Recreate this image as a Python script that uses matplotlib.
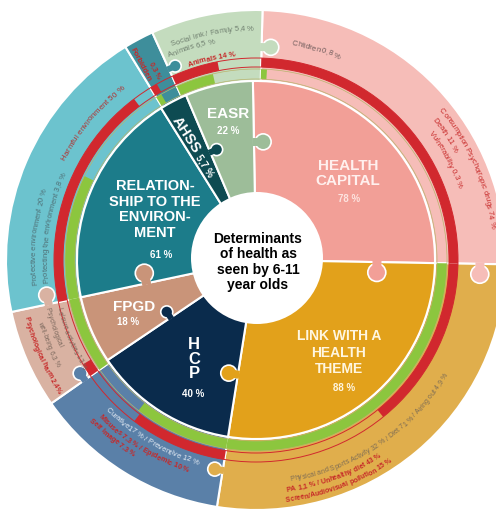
import numpy as np
import matplotlib
matplotlib.use('Agg')
import matplotlib.pyplot as plt
from matplotlib.patches import Wedge, Circle, Polygon
from matplotlib.font_manager import FontProperties
from matplotlib.textpath import TextToPath

plt.rcParams['font.family'] = ['Liberation Sans', 'DejaVu Sans']

# ---- data ----
# inner puzzle pieces (slice size in degrees, clockwise from 12 o'clock)
inner_names = ['HEALTH\nCAPITAL', 'LINK WITH A\nHEALTH\nTHEME', 'H\nC\nP', 'FPGD',
               'RELATION-\nSHIP TO THE\nENVIRON-\nMENT', 'AHSS', 'EASR']
inner_pct = ['78 %', '88 %', '40 %', '18 %', '61 %', '5,7 %', '22 %']
inner_span = [92, 98, 47, 22, 70, 9, 22]
inner_colors = ['#F29F97', '#E2A11B', '#0A2B4C', '#C99479', '#1C7C8A', '#0E4B52', '#9DBD99']

# outer ring pieces
outer_span = [89.5, 98, 46, 23, 70.5, 7, 26]
outer_colors = ['#F6BDB8', '#E0AE4C', '#5A80A8', '#D9B2A2', '#6CC3CE', '#3E8E9B', '#C4DCBE']
green_share = [0.02, 1.0, 0.63, 1.0, 0.54, 0.25, 0.44]
red_share = [1.0, 0.51, 0.61, 0.17, 0.92, 0.3, 0.52]

# outer ring texts, per piece
pink_lines = ['Children 0,8 %', 'Consumption Psychotropic drugs 74 %', 'Death 11 %',
              'Vulnerability 0,3 %']
gold_lines = ['Physical and Sports Activity 32 % / Diet 71 % / Airing out 4,9 %',
              'PA 1,1 % / Unhealthy diet 43 %', 'Screen/Audiovisual pollution 15 %']
blue_lines = ['Curative17 % / Preventive 12 %', 'Misuses 7,3 % / Epidemic 10 %',
              'Self image 7,3 %']
tan_lines = ['Leisure activities 13 %', 'Psychological', 'well-being 6,3 %',
             'Psychological harm 2,4%']
teal_lines = ['Harmful environment 50 %', 'Protective environment 20 %',
              'Protecting the environment 3,8 %']
green_lines = ['Social link / Family 5,4 %', 'Animals 6,5 %', 'Animals 14 %']
ahss_lines = ['Forbidden', '0,3 %']
center_title = 'Determinants\nof health as\nseen by 6-11\nyear olds'

# ---- layout ----
W, H = 496, 511
CX, CY = 256, H - 260
R_IN, R_PIE, R_OUT = 60, 179, 250
RED = '#D1282E'
GREEN = '#8CC63E'
TXT_RED = '#C62828'

fig = plt.figure(figsize=(W / 100, H / 100), dpi=100)
ax = fig.add_axes([0, 0, 1, 1])

ax.pie(outer_span, radius=R_OUT, center=(CX, CY), startangle=90 - 1.5, counterclock=False,
       colors=outer_colors, wedgeprops=dict(width=R_OUT - R_PIE, edgecolor='white', linewidth=1.5))
ax.pie(inner_span, radius=R_PIE, center=(CX, CY), startangle=90 + 1, counterclock=False,
       colors=inner_colors, wedgeprops=dict(width=R_PIE - R_IN, edgecolor='white', linewidth=1.5))


def band(a, b, r, w, color):
    ax.add_patch(Wedge((CX, CY), r, 90 - b, 90 - a, width=w, fc=color, ec='none', zorder=3))


bounds = 1.5 + np.concatenate([[0], np.cumsum(outer_span)])
for i, span in enumerate(outer_span):
    a = bounds[i]
    if green_share[i] > 0:
        band(a, a + span * green_share[i], 191, 10, GREEN)
    if red_share[i] > 0:
        band(a, a + span * red_share[i], 202, 9, RED)

for r, c, lw in [(181, '#b9b46e', 0.5), (191, '#b9b46e', 0.5), (193, RED, 0.7), (202, RED, 0.7)]:
    ax.add_patch(Circle((CX, CY), r, fill=False, ec=c, lw=lw, zorder=3))


# puzzle knobs: a neck and a round head, bulging clockwise into the next piece
def knob(theta, r, color, size=9):
    t_ = np.radians(theta)
    b = np.array([CX + r * np.sin(t_), CY + r * np.cos(t_)])
    t = np.array([np.cos(t_), -np.sin(t_)])
    n = np.array([np.sin(t_), np.cos(t_)])
    d = size * 1.15
    ax.add_patch(Circle(b + d * t, size, fc=color, ec='white', lw=1.2, zorder=2.5))
    hw = 0.5 * size
    neck = [b - 1.5 * t - hw * n, b + d * t - hw * n, b + d * t + hw * n, b - 1.5 * t + hw * n]
    ax.add_patch(Polygon(neck, closed=True, fc=color, ec='none', zorder=2.6))


ibounds = -1 + np.concatenate([[0], np.cumsum(inner_span)])
knob(ibounds[7], 118, inner_colors[6], 8)   # EASR -> HC
knob(ibounds[1], 121, inner_colors[0], 9)   # HC -> LINK
knob(ibounds[2], 116, inner_colors[1], 8)   # LINK -> HCP
knob(ibounds[3], 103, inner_colors[2], 6)   # HCP -> FPGD
knob(ibounds[4], 112, inner_colors[3], 9)   # FPGD -> REL
knob(ibounds[6], 117, inner_colors[5], 6)   # AHSS -> EASR
knob(bounds[1], 224, outer_colors[0], 9)
knob(bounds[2], 213, outer_colors[1], 7)
knob(bounds[3], 209, outer_colors[2], 7)
knob(bounds[4], 212, outer_colors[3], 8)
knob(bounds[6], 210, outer_colors[5], 6)
knob(bounds[7], 213, outer_colors[6], 8)

ax.add_patch(Circle((CX + 1, CY + 2), 66, fc='white', ec='none', zorder=4))

# ---- texts ----
ttp = TextToPath()


def adv(c, fp):
    w1 = ttp.get_text_width_height_descent('x' + c + 'x', fp, ismath=False)[0]
    w0 = ttp.get_text_width_height_descent('xx', fp, ismath=False)[0]
    return (w1 - w0) * 100 / 72


def arc_text(s, theta_c, r, size=5.5, color='#666666', weight='normal', inward=False):
    fp = FontProperties(family='Liberation Sans', size=size, weight=weight)
    ws = [adv(c, fp) for c in s]
    pos = -sum(ws) / 2
    sign = -1 if inward else 1
    for c, w in zip(s, ws):
        mid = pos + w / 2
        pos += w
        th = theta_c + sign * np.degrees(mid / r)
        x = CX + r * np.sin(np.radians(th))
        y = CY + r * np.cos(np.radians(th))
        rot = 180 - th if inward else -th
        ax.text(x, y, c, fontproperties=fp, color=color, rotation=rot, ha='center',
                va='center_baseline', rotation_mode='anchor', zorder=6)


# pink
arc_text(pink_lines[0], 16, 220, color='#6d5a5a')
arc_text(pink_lines[1], 66.5, 239, color=TXT_RED)
arc_text(pink_lines[2], 56.5, 228, color=TXT_RED)
arc_text(pink_lines[3], 62, 217, color=TXT_RED)
# gold
arc_text(gold_lines[0], 146, 221, size=5, color='#7d6c55', inward=True)
arc_text(gold_lines[1], 160, 231, size=5, color=TXT_RED, weight='bold', inward=True)
arc_text(gold_lines[2], 159.5, 241, size=5, color=TXT_RED, weight='bold', inward=True)
# blue
arc_text(blue_lines[0], 210.5, 210, color='#E6EDF5', inward=True)
arc_text(blue_lines[1], 211.5, 220, size=5.2, color=TXT_RED, weight='bold', inward=True)
arc_text(blue_lines[2], 219, 229, size=5.2, color=TXT_RED, weight='bold', inward=True)
# tan
arc_text(tan_lines[0], 247, 202, size=4.8, color='#7a675c', inward=True)
arc_text(tan_lines[1], 251.7, 213, size=4.8, color='#7a675c', inward=True)
arc_text(tan_lines[2], 248, 224, size=4.8, color='#7a675c', inward=True)
arc_text(tan_lines[3], 246, 236, size=5, color=TXT_RED, weight='bold', inward=True)
# light teal
arc_text(teal_lines[0], 310, 218, size=5.8, color='#B3302F')
arc_text(teal_lines[1], 276, 223, color='#4f6f75')
arc_text(teal_lines[2], 279, 211, color='#4f6f75')
# light green
arc_text(green_lines[0], 349, 232, color='#6f7f6f')
arc_text(green_lines[1], 343, 223, color='#6f7f6f')
arc_text(green_lines[2], 347.5, 207, color=TXT_RED, weight='bold')
# small teal
ax.text(141, H - 65, ahss_lines[0], rotation=-62, color=TXT_RED, fontsize=5.5, fontweight='bold',
        ha='center', va='center', zorder=6)
ax.text(155, H - 71, ahss_lines[1], rotation=-62, color=TXT_RED, fontsize=5, fontweight='bold',
        ha='center', va='center', zorder=6)

# inner labels
bold = dict(fontweight='bold', ha='center', va='center', zorder=6)
ax.text(348, H - 173.5, inner_names[0], fontsize=11, color='#FFF0EE', linespacing=1.17, **bold)
ax.text(349, H - 199, inner_pct[0], fontsize=7, color='#FDE3DF', **bold)
ax.text(339, H - 352.5, inner_names[1], fontsize=10, color='#FFF6E0', linespacing=1.19, **bold)
ax.text(344, H - 387.5, inner_pct[1], fontsize=7, color='#FFF6E0', **bold)
ax.text(194, H - 359, inner_names[2], fontsize=12, color='white', linespacing=0.97, **bold)
ax.text(193, H - 394, inner_pct[2], fontsize=7, color='white', **bold)
ax.text(134, H - 306.5, inner_names[3], fontsize=11, color='white', **bold)
ax.text(128, H - 322, inner_pct[3], fontsize=7, color='white', **bold)
ax.text(155, H - 209.5, inner_names[4], fontsize=10.5, color='white', linespacing=1.15, **bold)
ax.text(161, H - 255, inner_pct[4], fontsize=7, color='white', **bold)
ax.text(186, H - 135, inner_names[5], fontsize=10.5, color='white', rotation=-57, **bold)
ax.text(205, H - 166, inner_pct[5], fontsize=7, color='white', rotation=-57, **bold)
ax.text(228, H - 114, inner_names[6], fontsize=11, color='white', **bold)
ax.text(228, H - 131, inner_pct[6], fontsize=7, color='white', **bold)

ax.text(258, H - 262, center_title, fontsize=10, color='black', linespacing=1.1, **bold)

ax.set_xlim(0, W)
ax.set_ylim(0, H)
ax.set_aspect('equal')
ax.axis('off')
fig.savefig('out.png', dpi=100)
